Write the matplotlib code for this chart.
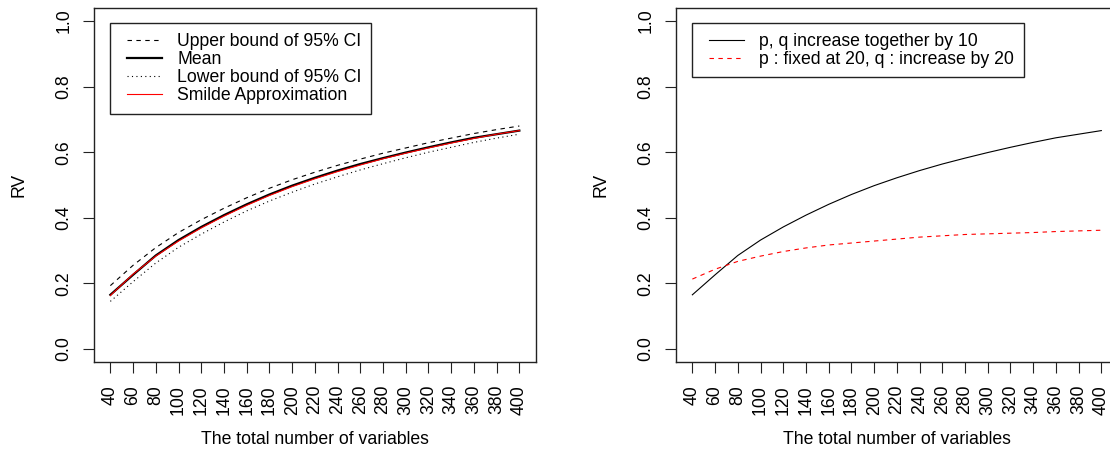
import matplotlib
matplotlib.use("Agg")
import matplotlib.pyplot as plt
from matplotlib.legend_handler import HandlerLine2D
from matplotlib.lines import Line2D

# ---------------- data ----------------
n_vars = [40, 60, 80, 100, 120, 140, 160, 180, 200, 220, 240, 260, 280, 300, 320, 340, 360, 380, 400]
x_tick_labels = [str(v) for v in n_vars]
y_ticks = [0.0, 0.2, 0.4, 0.6, 0.8, 1.0]

rv_upper = [0.193, 0.255, 0.309, 0.355, 0.394, 0.429, 0.461, 0.490, 0.516, 0.539,
            0.560, 0.579, 0.597, 0.613, 0.629, 0.643, 0.657, 0.669, 0.680]
rv_mean = [0.165, 0.226, 0.285, 0.332, 0.372, 0.408, 0.441, 0.471, 0.498, 0.522,
           0.544, 0.564, 0.582, 0.599, 0.615, 0.630, 0.644, 0.655, 0.666]
rv_lower = [0.145, 0.205, 0.262, 0.310, 0.350, 0.387, 0.421, 0.451, 0.478, 0.503,
            0.525, 0.546, 0.565, 0.583, 0.600, 0.615, 0.630, 0.643, 0.655]
rv_smilde = [0.163, 0.228, 0.283, 0.329, 0.369, 0.405, 0.438, 0.468, 0.495, 0.519,
             0.541, 0.561, 0.580, 0.597, 0.613, 0.628, 0.642, 0.655, 0.666]

rv_together = rv_mean
rv_p_fixed = [0.213, 0.243, 0.267, 0.283, 0.297, 0.308, 0.317, 0.323, 0.329, 0.335,
              0.341, 0.345, 0.349, 0.351, 0.353, 0.355, 0.358, 0.360, 0.362]

left_labels = ["Upper bound of 95% CI", "Mean", "Lower bound of 95% CI", "Smilde Approximation"]
right_labels = ["p, q increase together by 10", "p : fixed at 20, q : increase by 20"]
x_title = "The total number of variables"
y_title = "RV"

# ---------------- style ----------------
plt.rcParams['font.family'] = ['Liberation Sans', 'DejaVu Sans']
FS = 12.7
FS_PX = FS * 100 / 72.0
W, H = 1110, 457
fig = plt.figure(figsize=(W / 100, H / 100), dpi=100)

ax_w = 441.7 / W
ax_h = 354.0 / H
ax_b = 1 - 362.0 / H
axL = fig.add_axes([94.0 / W, ax_b, ax_w, ax_h])
axR = fig.add_axes([676.0 / W, ax_b, ax_w, ax_h])

RED = "#FF0000"
LW = 0.8
EDGE = '#222222'


def style_axes(ax):
    ax.set_xlim(40 - 0.04 * 360, 400 + 0.04 * 360)
    ax.set_ylim(-0.04, 1.04)
    ax.set_xticks(n_vars)
    ax.set_xticklabels(x_tick_labels, rotation=90, fontsize=FS, va='top', ha='center')
    ax.set_yticks(y_ticks)
    ax.set_yticklabels([f"{v:.1f}" for v in y_ticks], rotation=90, fontsize=FS,
                       va='center', ha='right')
    ax.tick_params(axis='x', direction='out', length=7.9, width=0.8, pad=8.6, color=EDGE)
    ax.tick_params(axis='y', direction='out', length=7.9, width=0.8, pad=7.5, color=EDGE)
    for s in ax.spines.values():
        s.set_linewidth(1.0)
        s.set_color(EDGE)
    ax.set_xlabel(x_title, fontsize=FS)
    ax.set_ylabel(y_title, fontsize=FS)
    ax.xaxis.set_label_coords(0.5, -(439 - 362) / 354.0)
    ax.xaxis.label.set_va('center')
    ax.yaxis.set_label_coords(-(94 - 19) / 441.7, 0.5)
    ax.yaxis.label.set_va('center')


PAD_PX = 9.7
XPAD_PX = 7.0
HANDLE_PX = 35.0
TEXTPAD_PX = 15.5


def add_legend(ax):
    leg = ax.legend(loc='upper left', bbox_to_anchor=(16 / 441.7, 1 - 15 / 354.0),
                    borderaxespad=0, fontsize=FS, frameon=True, fancybox=False,
                    edgecolor=EDGE, framealpha=1,
                    handlelength=(XPAD_PX + HANDLE_PX) / FS_PX,
                    handletextpad=TEXTPAD_PX / FS_PX, labelspacing=0.06,
                    borderpad=PAD_PX / FS_PX,
                    handler_map={Line2D: HandlerLine2D(xpad=XPAD_PX / FS_PX)})
    leg.get_frame().set_linewidth(1.0)
    return leg


# left panel
axL.plot(n_vars, rv_upper, color='black', lw=LW, linestyle=(0, (4, 4)), label=left_labels[0])
axL.plot(n_vars, rv_mean, color='black', lw=1.6, linestyle='-', label=left_labels[1])
axL.plot(n_vars, rv_lower, color='black', lw=LW, linestyle=(0, (1, 3)), label=left_labels[2])
axL.plot(n_vars, rv_smilde, color=RED, lw=LW, linestyle='-', label=left_labels[3])
style_axes(axL)
add_legend(axL)

# right panel
axR.plot(n_vars, rv_together, color='black', lw=LW, linestyle='-', label=right_labels[0])
axR.plot(n_vars, rv_p_fixed, color=RED, lw=LW, linestyle=(0, (4, 4)), label=right_labels[1])
style_axes(axR)
add_legend(axR)

fig.savefig("out.png", dpi=100)
